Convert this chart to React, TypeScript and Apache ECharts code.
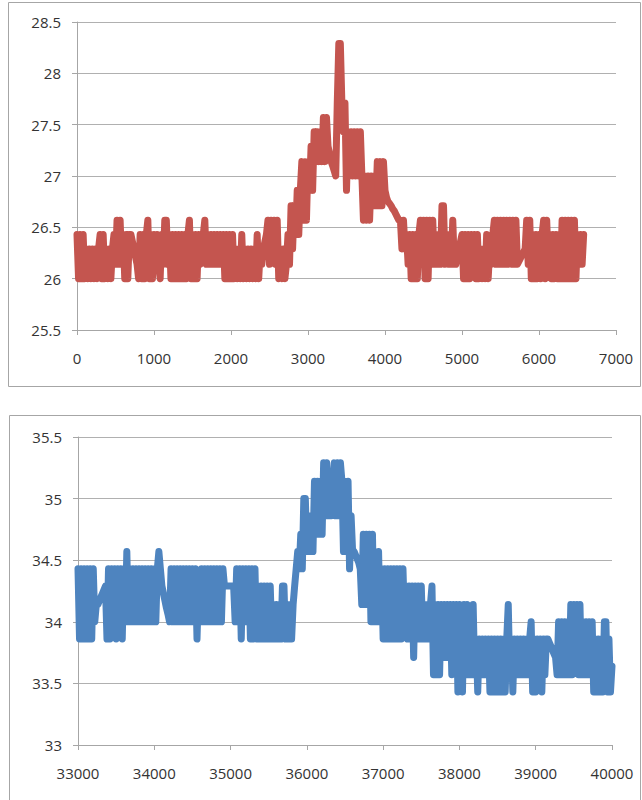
import React, { useEffect, useRef } from "react";
import * as echarts from "echarts";

// ---- Top chart (red): samples every 20 units starting at x = 0 ----
const topXStart = 0;
const topXStep = 20;
const topXTicks = { min: 0, max: 7000, interval: 1000 };
const topYTicks = { min: 25.5, max: 28.5, interval: 0.5 };
const topTemps = [
  26.43, 26.0, 26.43, 26.0, 26.43, 26.0, // 0-100
  26.29, 26.0, 26.29, 26.0, 26.29, 26.0, 26.29, 26.0, 26.29, // 120-280
  26.43, 26.0, 26.43, 26.0, // 300-360
  26.29, 26.0, 26.29, 26.0, 26.29, // 380-460
  26.43, 26.14, // 480-500
  26.57, 26.14, 26.57, // 520-560
  26.14, 26.43, 26.0, 26.43, 26.0, 26.43, // 580-680
  26.43, 26.36, 26.29, 26.21, 26.14, 26.0, // 700-800
  26.43, 26.0, 26.43, 26.0, 26.43, 26.57, 26.0, 26.43, 26.0, // 820-980
  26.43, 26.14, 26.43, 26.14, 26.0, 26.43, 26.14, 26.57, 26.57, 26.14, // 1000-1180
  26.43, 26.0, 26.43, 26.0, 26.43, 26.0, 26.43, 26.0, 26.43, 26.0, 26.43, 26.0, 26.43, // 1200-1440
  26.57, 26.0, // 1460-1480
  26.43, 26.0, 26.43, 26.0, 26.43, // 1500-1580
  26.14, 26.3, 26.43, // 1600-1640
  26.57, 26.14, // 1660-1680
  26.43, 26.14, 26.43, 26.14, 26.43, 26.14, 26.43, 26.14, 26.43, 26.14, // 1700-1880
  26.43, 26.0, 26.43, 26.0, 26.43, 26.0, 26.43, 26.0, // 1900-2040
  26.29, 26.0, 26.29, 26.0, 26.43, 26.0, 26.29, // 2060-2180
  26.0, 26.29, 26.0, 26.29, 26.0, 26.29, 26.0, 26.43, 26.0, 26.29, 26.14, // 2200-2400
  26.29, 26.36, 26.43, 26.57, 26.14, 26.57, 26.29, 26.57, 26.14, 26.57, // 2420-2600
  26.0, 26.29, 26.0, 26.29, 26.0, 26.14, // 2620-2720
  26.43, 26.14, 26.71, 26.29, // 2740-2800
  26.71, 26.43, 26.86, 26.43, 26.86, // 2820-2900
  27.14, 26.57, 27.14, 26.57, 27.14, // 2920-3000
  26.86, 27.29, 26.86, // 3020-3060
  27.43, 27.14, 27.43, 27.14, 27.43, // 3080-3160
  27.14, 27.57, 27.14, 27.57, // 3180-3240
  27.29, 27.22, 27.14, 27.1, 27.05, 27.0, // 3260-3360
  27.71, 28.29, 28.29, 27.71, // 3380-3440
  27.43, 27.71, 26.86, 27.43, // 3460-3520
  27.0, 27.43, 27.0, 27.43, 27.0, 27.43, 27.0, 27.43, 27.0, // 3540-3700
  26.57, 27.0, 26.57, 27.0, 26.57, 27.0, 26.71, 27.0, // 3720-3860
  26.71, 27.14, 26.71, 27.14, 26.71, 27.14, 26.86, // 3880-4000
  26.79, 26.75, 26.73, 26.71, 26.68, 26.66, 26.63, 26.6, 26.57, 26.57, // 4020-4200
  26.29, 26.57, 26.29, 26.43, 26.14, // 4220-4300
  26.43, 26.0, 26.43, 26.0, 26.43, 26.0, 26.43, // 4320-4440
  26.57, 26.14, 26.57, 26.0, 26.57, 26.0, 26.57, 26.14, 26.57, 26.14, // 4460-4640
  26.43, 26.14, 26.43, 26.14, // 4660-4720
  26.71, 26.71, 26.14, // 4740-4780
  26.43, 26.14, 26.43, 26.14, // 4800-4860
  26.57, 26.14, // 4880-4900
  26.14, 26.22, 26.29, 26.36, 26.43, // 4920-5000
  26.0, 26.43, 26.0, 26.43, 26.0, 26.43, 26.14, 26.43, 26.0, 26.43, 26.0, 26.29, // 5020-5240
  26.0, 26.29, 26.0, 26.43, 26.0, 26.29, 26.14, 26.43, // 5260-5400
  26.57, 26.14, 26.57, 26.14, 26.57, 26.14, 26.57, 26.14, 26.57, 26.14, 26.57, 26.14, 26.57, 26.14, 26.57, // 5420-5700
  26.14, 26.17, 26.2, 26.23, 26.26, 26.29, // 5720-5820
  26.57, 26.14, 26.57, // 5840-5880
  26.0, 26.43, 26.0, 26.43, 26.0, 26.43, 26.0, 26.43, // 5900-6040
  26.57, 26.0, 26.57, 26.14, // 6060-6120
  26.43, 26.0, 26.43, 26.0, 26.43, 26.0, 26.43, 26.0, // 6140-6280
  26.57, 26.0, 26.57, 26.0, 26.57, 26.0, 26.57, 26.0, 26.57, 26.0, // 6300-6480
  26.43, 26.14, 26.43, 26.14, 26.43, // 6500-6580
];

// ---- Bottom chart (blue): samples every 20 units starting at x = 33000 ----
const bottomXStart = 33000;
const bottomXStep = 20;
const bottomXTicks = { min: 33000, max: 40000, interval: 1000 };
const bottomYTicks = { min: 33, max: 35.5, interval: 0.5 };
const bottomTemps = [
  34.43, 33.86, 34.43, 33.86, 34.43, 33.86, 34.43, 33.86, 34.43, 33.86, 34.43, 34.0, 34.14, // 33000-33240
  34.14, 34.17, 34.2, 34.23, 34.26, 34.29, // 33260-33360
  33.86, 34.43, 33.86, 34.43, 34.14, 34.43, 33.86, 34.43, // 33380-33520
  34.0, 34.43, 33.86, 34.43, 34.0, // 33540-33620
  34.57, 34.0, // 33640-33660
  34.43, 34.0, 34.43, 34.0, 34.43, 34.0, 34.43, 34.0, 34.43, 34.0, 34.43, 34.0, 34.43, 34.0, 34.43, 34.0, 34.43, 34.0, 34.43, // 33680-34040
  34.57, 34.43, // 34060-34080
  34.29, 34.23, 34.17, 34.11, 34.06, 34.0, // 34100-34200
  34.43, 34.0, 34.43, 34.0, 34.43, 34.0, 34.43, 34.0, 34.43, 34.0, 34.43, 34.0, 34.43, 34.0, 34.43, 34.0, 34.43, // 34220-34540
  33.86, 34.29, // 34560-34580
  34.0, 34.43, 34.0, 34.43, 34.0, 34.43, 34.0, 34.43, 34.0, 34.43, 34.0, 34.43, 34.0, 34.43, 34.0, 34.43, // 34600-34900
  34.29, 34.29, 34.29, 34.29, 34.29, 34.29, 34.29, // 34920-35040
  34.0, 34.43, 34.0, 34.43, 33.86, 34.43, 34.0, 34.43, 34.0, 34.43, 33.86, 34.43, 33.86, 34.43, 33.86, 34.29, 33.86, 34.29, // 35060-35400
  33.86, 34.29, 33.86, 34.29, 33.86, 34.29, 33.86, 34.14, // 35420-35560
  33.86, 34.14, 33.86, 34.14, 33.86, 34.29, // 35580-35680
  34.29, 33.86, 34.14, 33.86, 34.14, 33.86, // 35700-35800
  34.14, 34.29, 34.43, 34.57, 34.43, // 35820-35900
  34.71, 34.43, 35.0, 35.0, 34.57, 34.86, 34.57, // 35920-36040
  34.86, 34.57, 35.14, 34.71, 35.14, 34.71, 35.14, 34.71, // 36060-36200
  35.29, 34.86, 35.29, // 36220-36260
  34.86, 35.14, 34.86, 35.14, 35.29, 34.86, 35.29, 34.86, 35.29, 35.14, // 36280-36460
  34.57, 35.14, 34.57, 35.14, // 36480-36540
  34.43, 34.86, 34.57, // 36560-36600
  34.57, 34.54, 34.51, 34.48, 34.43, // 36620-36700
  34.14, 34.71, 34.14, 34.71, 34.14, 34.71, 34.0, 34.71, 34.0, // 36720-36880
  34.43, 34.0, 34.57, 34.0, 34.43, 33.86, 34.43, // 36900-37020
  33.86, 34.43, 33.86, 34.43, 33.86, 34.43, 33.86, 34.43, 33.86, 34.43, 33.86, 34.43, 34.0, // 37040-37280
  34.29, 33.86, 34.29, 33.86, 34.29, 33.71, 34.29, 33.86, 34.29, 33.86, 34.29, // 37300-37500
  33.86, 34.14, 33.86, 34.14, 33.86, 34.14, 34.29, // 37520-37640
  33.57, 34.14, 33.57, 34.14, 33.57, 34.14, 33.71, 34.14, // 37660-37800
  33.71, 34.14, 33.71, 34.14, 33.57, 34.14, 33.71, 34.14, // 37820-37960
  33.43, 34.14, 33.57, 33.43, 34.14, 33.57, // 37980-38080
  34.14, 33.57, 34.0, 33.57, 34.14, 33.57, 33.86, 33.43, 33.86, 33.57, // 38100-38280
  33.86, 33.57, 33.86, 33.57, 33.86, 33.43, // 38300-38400
  33.86, 33.43, 33.86, 33.43, 33.86, 33.43, 33.86, 33.43, 33.86, 33.43, 33.86, // 38420-38620
  34.14, 33.57, // 38640-38660
  33.86, 33.43, 33.86, // 38680-38720
  33.57, 33.86, 33.57, 33.86, 33.57, 33.86, 33.57, 33.86, 33.57, 33.86, 34.0, // 38740-38940
  33.43, 33.86, 33.43, 33.86, 33.57, 33.86, 33.43, 33.86, 33.57, 33.86, // 38960-39140
  33.86, 33.83, 33.8, 33.77, 33.74, 33.71, // 39160-39260
  33.57, 34.0, 33.57, 34.0, 33.57, 34.0, 33.57, 34.0, // 39280-39420
  33.57, 34.14, 33.57, 34.14, 33.71, 34.14, 33.57, 34.14, 33.57, // 39440-39600
  34.0, 33.57, 34.0, 33.57, 34.0, 33.57, 34.0, 33.43, // 39620-39760
  33.86, 33.43, 33.86, 33.43, 33.86, 33.43, 34.0, 34.0, // 39780-39920
  33.43, 33.86, 33.43, 33.64, // 39940-40000
];

const RED = "#c4554f";
const BLUE = "#4e84bf";
const AXIS_GRAY = "#a6a6a6";
const GRID_GRAY = "#b0b0b0";
const FONT = "Open Sans";

function toPoints(start: number, step: number, values: number[]) {
  return values.map((v, i) => [start + i * step, v]);
}

export default function App() {
  const ref = useRef<HTMLDivElement>(null);

  useEffect(() => {
    if (!ref.current) return;
    const chart = echarts.init(ref.current, null, { renderer: "svg" });

    const xAxisBase = (grid: number, t: { min: number; max: number; interval: number }) => ({
      type: "value" as const,
      gridIndex: grid,
      min: t.min,
      max: t.max,
      interval: t.interval,
      axisLine: { show: true, lineStyle: { color: AXIS_GRAY, width: 1 } },
      axisTick: { show: true, length: 5, lineStyle: { color: AXIS_GRAY } },
      axisLabel: {
        color: "#333",
        fontSize: 15,
        fontFamily: FONT,
        margin: 20,
        formatter: (v: number) => String(v),
      },
      splitLine: { show: false },
    });
    const yAxisBase = (grid: number, t: { min: number; max: number; interval: number }) => ({
      type: "value" as const,
      gridIndex: grid,
      min: t.min,
      max: t.max,
      interval: t.interval,
      axisLine: { show: true, lineStyle: { color: AXIS_GRAY, width: 1 } },
      axisTick: { show: true, length: 5, lineStyle: { color: AXIS_GRAY } },
      axisLabel: {
        color: "#333",
        fontSize: 15,
        fontFamily: FONT,
        margin: 16,
        formatter: (v: number) => String(v),
      },
      splitLine: { show: true, lineStyle: { color: GRID_GRAY, width: 1 } },
    });

    const lineSeries = (idx: number, color: string, data: number[][]) => ({
      type: "line" as const,
      xAxisIndex: idx,
      yAxisIndex: idx,
      data,
      symbol: "none",
      showSymbol: false,
      smooth: false,
      lineStyle: { color, width: 7, cap: "round", join: "round" },
      itemStyle: { color },
      clip: true,
    });

    chart.setOption({
      animation: false,
      backgroundColor: "#ffffff",
      grid: [
        { left: 77, right: 26, top: 22, bottom: 470, containLabel: false },
        { left: 78, right: 30, top: 437, bottom: 55, containLabel: false },
      ],
      xAxis: [xAxisBase(0, topXTicks), xAxisBase(1, bottomXTicks)],
      yAxis: [yAxisBase(0, topYTicks), yAxisBase(1, bottomYTicks)],
      series: [
        lineSeries(0, RED, toPoints(topXStart, topXStep, topTemps)),
        lineSeries(1, BLUE, toPoints(bottomXStart, bottomXStep, bottomTemps)),
      ],
      graphic: [
        {
          type: "rect",
          silent: true,
          shape: { x: 8.5, y: 2.5, width: 632, height: 384 },
          style: { fill: "none", stroke: AXIS_GRAY, lineWidth: 1 },
        },
        {
          type: "rect",
          silent: true,
          shape: { x: 9.5, y: 415.5, width: 631, height: 400 },
          style: { fill: "none", stroke: AXIS_GRAY, lineWidth: 1 },
        },
      ],
    });

    return () => {
      chart.dispose();
    };
  }, []);

  return (
    <div
      ref={ref}
      style={{ position: "absolute", left: 0, top: 0, width: 642, height: 800 }}
    />
  );
}
